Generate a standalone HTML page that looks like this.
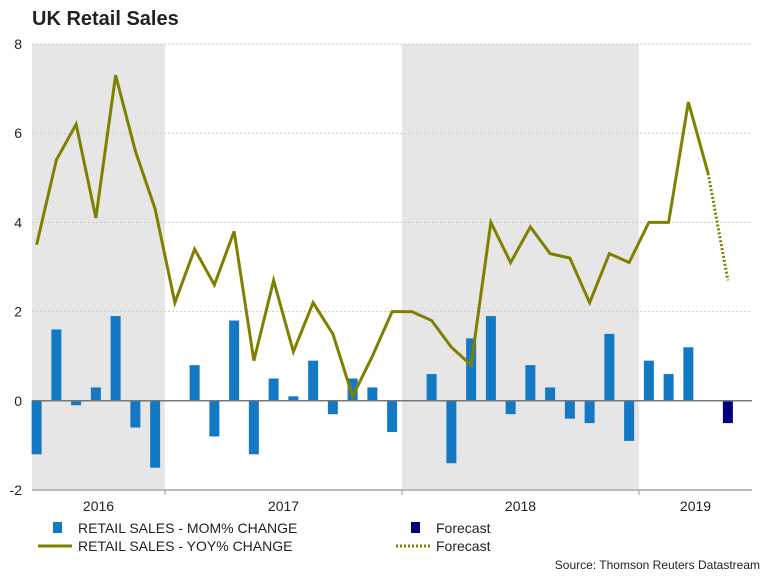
<!DOCTYPE html>
<html><head><meta charset="utf-8"><style>
body{margin:0;background:#fff;font-family:"Liberation Sans",sans-serif}
</style></head><body>
<svg id="c" width="768" height="576" xmlns="http://www.w3.org/2000/svg">
<text x="32" y="25" font-size="20" font-weight="bold" fill="#222">UK Retail Sales</text>
<g id="plot"></g>
<g font-size="14" fill="#222">
<rect x="53" y="522" width="9" height="11" fill="#1479c4"/>
<text x="78" y="533">RETAIL SALES - MOM% CHANGE</text>
<line x1="38" y1="546" x2="72" y2="546" stroke="#808000" stroke-width="3"/>
<text x="78" y="551">RETAIL SALES - YOY% CHANGE</text>
<rect x="411" y="522" width="9" height="11" fill="#000080"/>
<text x="436" y="533">Forecast</text>
<line x1="396" y1="546" x2="430" y2="546" stroke="#808000" stroke-width="3" stroke-dasharray="2,2"/>
<text x="436" y="551">Forecast</text>
</g>
<text x="760" y="569" font-size="12" text-anchor="end" fill="#222">Source: Thomson Reuters Datastream</text>
</svg>
<script>
const months=['2016-06','2016-07','2016-08','2016-09','2016-10','2016-11','2016-12','2017-01','2017-02','2017-03','2017-04','2017-05','2017-06','2017-07','2017-08','2017-09','2017-10','2017-11','2017-12','2018-01','2018-02','2018-03','2018-04','2018-05','2018-06','2018-07','2018-08','2018-09','2018-10','2018-11','2018-12','2019-01','2019-02','2019-03','2019-04','2019-05'];
const mom=[-1.2,1.6,-0.1,0.3,1.9,-0.6,-1.5,0,0.8,-0.8,1.8,-1.2,0.5,0.1,0.9,-0.3,0.5,0.3,-0.7,0,0.6,-1.4,1.4,1.9,-0.3,0.8,0.3,-0.4,-0.5,1.5,-0.9,0.9,0.6,1.2,0,null];
const momForecast=[null,null,null,null,null,null,null,null,null,null,null,null,null,null,null,null,null,null,null,null,null,null,null,null,null,null,null,null,null,null,null,null,null,null,null,-0.5];
const yoy=[3.5,5.4,6.2,4.1,7.3,5.6,4.3,2.2,3.4,2.6,3.8,0.9,2.7,1.1,2.2,1.5,0.1,1.0,2.0,2.0,1.8,1.2,0.8,4.0,3.1,3.9,3.3,3.2,2.2,3.3,3.1,4.0,4.0,6.7,5.1,null];
const yoyForecast=[null,null,null,null,null,null,null,null,null,null,null,null,null,null,null,null,null,null,null,null,null,null,null,null,null,null,null,null,null,null,null,null,null,null,5.1,2.7];
const yTicks=[-2,0,2,4,6,8];
const years=['2016','2017','2018','2019'];
const NS='http://www.w3.org/2000/svg';
const g=document.getElementById('plot');
const L=32,R=752,T=44,B=490,mw=19.75,x0=26.75;
const y=v=>T+(8-v)*(B-T)/10;
const x=i=>x0+(i+0.5)*mw;
function mk(t,a){const e=document.createElementNS(NS,t);for(const k in a)e.setAttribute(k,a[k]);g.appendChild(e);return e;}
// shaded years
[[L,165],[402,639]].forEach((s,i)=>{const r=mk('rect',{x:s[0],y:T,width:s[1]-s[0],height:B-T,fill:'#e6e6e6'});

});
yTicks.forEach(v=>{
 if(v!==0&&v!==-2){const l=mk('line',{x1:L,x2:R,y1:y(v),y2:y(v),stroke:'#c8c8c8','stroke-dasharray':'2,2'});
 
 }
 const t=mk('text',{x:L-10,y:y(v)+5,'font-size':14,'text-anchor':'end',fill:'#222'});t.textContent=v;
 
 
});
const bl=mk('line',{x1:L,x2:R,y1:B,y2:B,stroke:'#bbb','stroke-width':2});


[165,402,639].forEach(px=>{const l=mk('line',{x1:px,x2:px,y1:B,y2:B+5,stroke:'#999'});

});
years.forEach((yr,i)=>{const s=[L,165,402,639,R];const t=mk('text',{x:(s[i]+s[i+1])/2,y:B+21,'font-size':14,'text-anchor':'middle',fill:'#222'});t.textContent=yr;

});
function bars(arr,col,name){arr.forEach((v,i)=>{if(v===null||v===0)return;
 const r=mk('rect',{x:x(i)-5,y:Math.min(y(v),y(0)),width:10,height:Math.abs(y(v)-y(0)),fill:col});
 
 });}
bars(mom,'#1479c4','bar-mom');
bars(momForecast,'#000080','bar-forecast');
const z=mk('line',{x1:L,x2:R,y1:y(0),y2:y(0),stroke:'#777','stroke-width':1.5});


function line(arr,dash,name){const p=[];arr.forEach((v,i)=>{if(v!==null)p.push(x(i)+','+y(v));});
 const e=mk('polyline',{points:p.join(' '),fill:'none',stroke:'#808000','stroke-width':3,'stroke-linejoin':'miter'});
 if(dash)e.setAttribute('stroke-dasharray',dash);
 
 }
line(yoy,null,'line-yoy');
line(yoyForecast,'2,2','line-yoy-forecast');
</script>
</body></html>
